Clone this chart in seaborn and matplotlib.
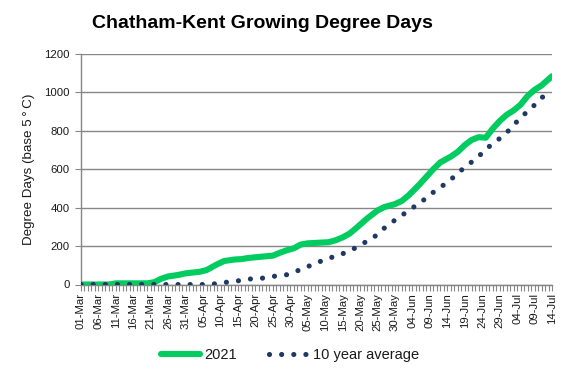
import matplotlib
matplotlib.use("Agg")
import matplotlib.pyplot as plt
from matplotlib.ticker import MultipleLocator, FixedLocator
import seaborn as sns
import pandas as pd

# ---- data (day index counted from 01-Mar) ----
days_2021 = [0, 8, 10, 19, 21, 23, 25, 28, 30, 34, 36, 39, 41, 44, 46, 48, 52, 55, 57, 59,
             61, 63, 65, 68, 71, 73, 75, 77, 79, 82, 85, 87, 90, 92, 94, 97, 101, 103, 106,
             108, 110, 112, 114, 116, 118, 120, 122, 124, 126, 128, 130, 132, 135]
gdd_2021 = [0, 0, 6, 6, 12, 30, 42, 50, 58, 66, 75, 105, 122, 130, 132, 138, 145, 150, 165, 178,
            188, 208, 214, 217, 220, 230, 245, 265, 295, 343, 385, 403, 418, 435, 465, 520, 600, 635, 665,
            690, 725, 752, 766, 763, 810, 850, 882, 905, 935, 980, 1012, 1035, 1083]

days_avg = [0, 37, 40, 45, 48, 52, 55, 59, 62, 65, 68, 71, 75, 78, 81, 84, 86, 89, 92, 95,
            98, 100, 103, 106, 108, 111, 114, 116, 119, 122, 124, 126, 129, 131, 134, 135]
gdd_avg = [0, 0, 8, 19, 28, 33, 42, 51, 71, 93, 116, 136, 160, 184, 215, 246, 280, 322, 360, 398,
           436, 467, 505, 545, 580, 623, 666, 704, 744, 790, 827, 870, 913, 955, 1000, 1010]

tick_days = list(range(0, 136, 5))
tick_labels = ["01-Mar", "06-Mar", "11-Mar", "16-Mar", "21-Mar", "26-Mar", "31-Mar",
               "05-Apr", "10-Apr", "15-Apr", "20-Apr", "25-Apr", "30-Apr",
               "05-May", "10-May", "15-May", "20-May", "25-May", "30-May",
               "04-Jun", "09-Jun", "14-Jun", "19-Jun", "24-Jun", "29-Jun",
               "04-Jul", "09-Jul", "14-Jul"]

df21 = pd.DataFrame({"day": days_2021, "gdd": gdd_2021})
dfav = pd.DataFrame({"day": days_avg, "gdd": gdd_avg})

sns.set_theme(style="white")
plt.rcParams["font.family"] = ["Liberation Sans", "DejaVu Sans"]

GREEN = "#00CC60"
NAVY = "#1F3864"
GRID = "#868686"
TXT = "#1a1a1a"

fig = plt.figure(figsize=(5.67, 3.78), dpi=100)
ax = fig.add_axes([81 / 567, 1 - 284.5 / 378, (552 - 81) / 567, (284.5 - 53.7) / 378])

sns.lineplot(data=df21, x="day", y="gdd", ax=ax, color=GREEN, linewidth=4.4,
             label="2021", solid_capstyle="round", solid_joinstyle="round", zorder=3)
sns.lineplot(data=dfav, x="day", y="gdd", ax=ax, color=NAVY, linewidth=3.7,
             linestyle=(0, (0.01, 2.35)), dash_capstyle="round", label="10 year average", zorder=4)

ax.set_xlim(0, 135)
ax.set_ylim(0, 1200)
ax.yaxis.set_major_locator(MultipleLocator(200))
ax.grid(axis="y", color=GRID, linewidth=1.0)
ax.set_axisbelow(True)
ax.xaxis.set_major_locator(FixedLocator(tick_days))
ax.set_xticklabels(tick_labels, rotation=90, fontsize=8.2, color=TXT)
ax.xaxis.set_minor_locator(MultipleLocator(1))
ax.tick_params(axis="x", which="both", direction="out", length=4, width=0.8, color=GRID,
               bottom=True, pad=2)
ax.tick_params(axis="y", which="major", direction="out", length=4, width=0.8, color=GRID,
               left=True, labelsize=8.2, labelcolor=TXT, pad=4)
for s in ["top", "right"]:
    ax.spines[s].set_visible(False)
for s in ["left", "bottom"]:
    ax.spines[s].set_color(GRID)
    ax.spines[s].set_linewidth(1.0)

ax.set_xlabel("")
ax.set_ylabel("Degree Days (base 5\u2009°\u2009C)", fontsize=9.6, color=TXT, labelpad=7)

fig.text(262 / 567, 1 - 24 / 378, "Chatham-Kent Growing Degree Days", ha="center", va="center",
         fontsize=14, color="black", fontweight="bold")

ax.legend_.remove()
h, l = ax.get_legend_handles_labels()
fig.legend(h, l, loc="center", bbox_to_anchor=(290 / 567, 1 - 355 / 378), ncol=2, frameon=False,
           fontsize=10.5, handlelength=2.7, columnspacing=2.2, handletextpad=0.3,
           labelcolor=TXT)

fig.savefig("out.png", dpi=100)
